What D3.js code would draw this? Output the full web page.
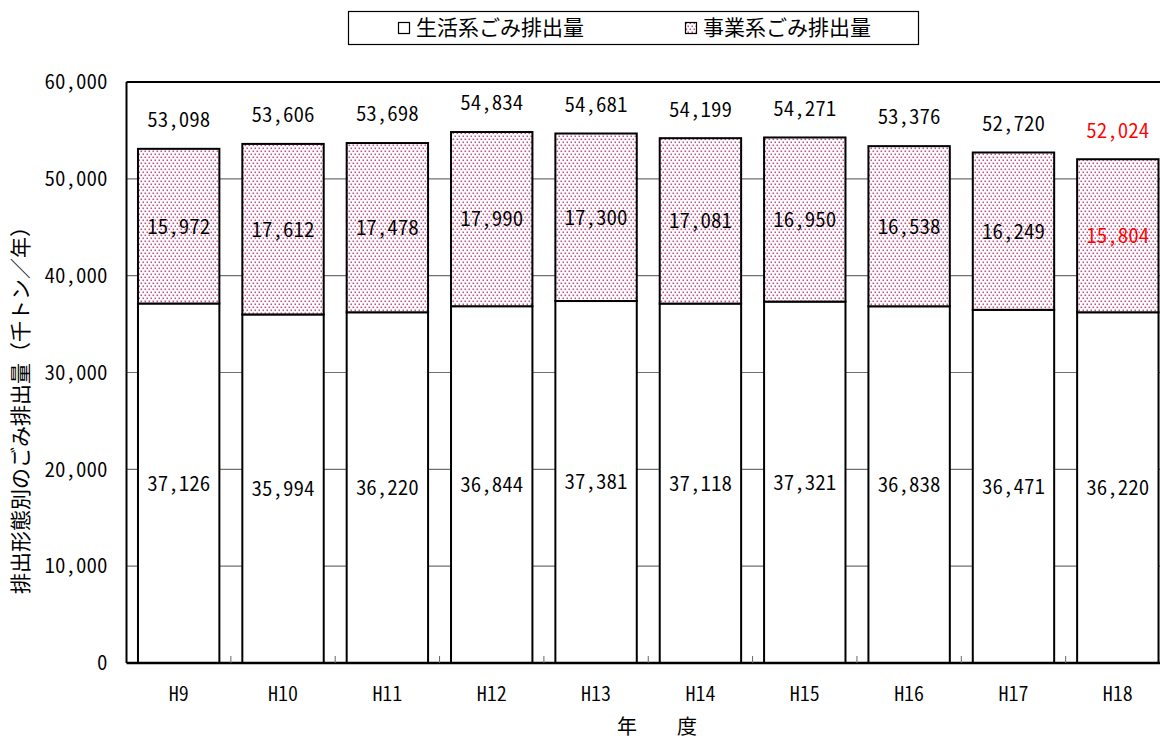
<!DOCTYPE html>
<html>
<head>
<meta charset="utf-8">
<script src="https://cdn.jsdelivr.net/npm/d3@7"></script>
<style>
body { margin: 0; background: #fff; }
svg text { font-family: "Noto Sans CJK JP", sans-serif; fill: #000; }
svg text.num { font-feature-settings: "hwid" 1; font-weight: 350; }
</style>
</head>
<body>
<div id="chart"></div>
<script>
// 年度別 ごみ排出量（千トン／年）
const years = ["H9", "H10", "H11", "H12", "H13", "H14", "H15", "H16", "H17", "H18"];
const household = [37126, 35994, 36220, 36844, 37381, 37118, 37321, 36838, 36471, 36220];
const business = [15972, 17612, 17478, 17990, 17300, 17081, 16950, 16538, 16249, 15804];
const totals = [53098, 53606, 53698, 54834, 54681, 54199, 54271, 53376, 52720, 52024];
const yTicks = [0, 10000, 20000, 30000, 40000, 50000, 60000];
const seriesNames = ["生活系ごみ排出量", "事業系ごみ排出量"];
const highlightYear = "H18";

let width = 1160, height = 740;
let plot = { left: 126.5, top: 82, right: 1170, bottom: 663 };

let svg = d3.select("#chart").append("svg")
    .attr("width", width)
    .attr("height", height);

// dotted fill for the business part
let pat = svg.append("defs").append("pattern")
    .attr("id", "dots")
    .attr("patternUnits", "userSpaceOnUse")
    .attr("width", 4)
    .attr("height", 6);
pat.append("rect").attr("width", 4).attr("height", 6).attr("fill", "#fff");
pat.append("rect").attr("x", 0.5).attr("y", 0.5).attr("width", 1.6).attr("height", 1.6).attr("fill", "#b8568a");
pat.append("rect").attr("x", 2.5).attr("y", 3.5).attr("width", 1.6).attr("height", 1.6).attr("fill", "#b8568a");

let x = d3.scaleBand()
    .domain(years)
    .range([plot.left, plot.right])
    .paddingInner(0.22)
    .paddingOuter(0.11);

let y = d3.scaleLinear()
    .domain([0, 60000])
    .range([plot.bottom, plot.top]);

const fmt = d3.format(",");

// grid
svg.append("g")
    .selectAll("line")
    .data(yTicks.filter(d => d > 0 && d < 60000))
    .enter().append("line")
    .attr("x1", plot.left).attr("x2", plot.right)
    .attr("y1", d => y(d)).attr("y2", d => y(d))
    .attr("stroke", "#707070")
    .attr("stroke-width", 1.2);

// top border
svg.append("line")
    .attr("x1", plot.left).attr("x2", plot.right)
    .attr("y1", y(60000)).attr("y2", y(60000))
    .attr("stroke", "#000").attr("stroke-width", 2);

let rows = years.map((d, i) => ({ year: d, h: household[i], b: business[i], t: totals[i] }));

let slice = svg.selectAll(".slice")
    .data(rows)
    .enter().append("g")
    .attr("class", "slice");

slice.append("rect")
    .attr("x", d => x(d.year))
    .attr("width", x.bandwidth())
    .attr("y", d => y(d.h))
    .attr("height", d => y(0) - y(d.h))
    .attr("fill", "#fff")
    .attr("stroke", "#000")
    .attr("stroke-width", 2);

slice.append("rect")
    .attr("x", d => x(d.year))
    .attr("width", x.bandwidth())
    .attr("y", d => y(d.h + d.b))
    .attr("height", d => y(d.h) - y(d.h + d.b))
    .attr("fill", "url(#dots)")
    .attr("stroke", "#000")
    .attr("stroke-width", 2);

let cx = d => x(d.year) + x.bandwidth() / 2;

slice.append("text")
    .attr("class", "num")
    .attr("x", cx)
    .attr("y", d => y(d.h / 2))
    .attr("dy", "0.35em")
    .attr("text-anchor", "middle")
    .style("font-size", "21px")
    .text(d => fmt(d.h));

slice.append("text")
    .attr("class", "num")
    .attr("x", cx)
    .attr("y", d => y(d.h + d.b / 2))
    .attr("dy", "0.35em")
    .attr("text-anchor", "middle")
    .style("font-size", "21px")
    .style("fill", d => d.year == highlightYear ? "#ff0000" : "#000")
    .text(d => fmt(d.b));

slice.append("text")
    .attr("class", "num")
    .attr("x", cx)
    .attr("y", d => y(d.t) - 29)
    .attr("dy", "0.35em")
    .attr("text-anchor", "middle")
    .style("font-size", "21px")
    .style("fill", d => d.year == highlightYear ? "#ff0000" : "#000")
    .text(d => fmt(d.t));

// axes
svg.append("line")
    .attr("x1", plot.left).attr("x2", plot.left)
    .attr("y1", y(60000)).attr("y2", y(0))
    .attr("stroke", "#000").attr("stroke-width", 2);
svg.append("line")
    .attr("x1", plot.left).attr("x2", plot.right)
    .attr("y1", y(0)).attr("y2", y(0))
    .attr("stroke", "#000").attr("stroke-width", 2.5);

// small ticks between categories
svg.append("g")
    .selectAll("line")
    .data(years.slice(1))
    .enter().append("line")
    .attr("x1", d => x(d) - x.step() * x.paddingInner() / 2)
    .attr("x2", d => x(d) - x.step() * x.paddingInner() / 2)
    .attr("y1", y(0))
    .attr("y2", y(0) - 7)
    .attr("stroke", "#666").attr("stroke-width", 1);

let xAxis = svg.append("g")
    .attr("transform", `translate(0, ${y(0)})`)
    .call(d3.axisBottom(x).tickSize(0).tickPadding(24));
xAxis.select(".domain").remove();
xAxis.selectAll("text").attr("class", "num").style("font-size", "20px").attr("font-family", null);

let yAxis = svg.append("g")
    .attr("transform", `translate(${plot.left}, 0)`)
    .call(d3.axisLeft(y).tickValues(yTicks).tickSize(0).tickPadding(19).tickFormat(fmt));
yAxis.select(".domain").remove();
yAxis.selectAll("text").attr("class", "num").style("font-size", "21px").attr("font-family", null);

// axis titles
svg.append("text")
    .attr("x", 657)
    .attr("y", 727)
    .attr("dy", "0.35em")
    .attr("text-anchor", "middle")
    .style("font-size", "20px")
    .text("年　　度");

svg.append("text")
    .attr("transform", "translate(21, 405) rotate(-90)")
    .attr("dy", "0.35em")
    .attr("text-anchor", "middle")
    .style("font-size", "21px")
    .text("排出形態別のごみ排出量（千トン／年）");

// legend
let legend = svg.append("g");
legend.append("rect")
    .attr("x", 348.5).attr("y", 11.5)
    .attr("width", 570).attr("height", 33)
    .attr("fill", "#fff").attr("stroke", "#000").attr("stroke-width", 1.2);

let legendX = [398, 685];
let items = legend.selectAll(".legend")
    .data(seriesNames)
    .enter().append("g")
    .attr("class", "legend")
    .attr("transform", (d, i) => `translate(${legendX[i]}, 28)`);

items.append("rect")
    .attr("x", 0.5).attr("y", -5.5)
    .attr("width", 11).attr("height", 11)
    .attr("fill", (d, i) => i == 0 ? "#fff" : "url(#dots)")
    .attr("stroke", "#000").attr("stroke-width", 1.2);

items.append("text")
    .attr("x", 18)
    .attr("dy", "0.35em")
    .style("font-size", "21px")
    .text(d => d);
</script>
</body>
</html>
